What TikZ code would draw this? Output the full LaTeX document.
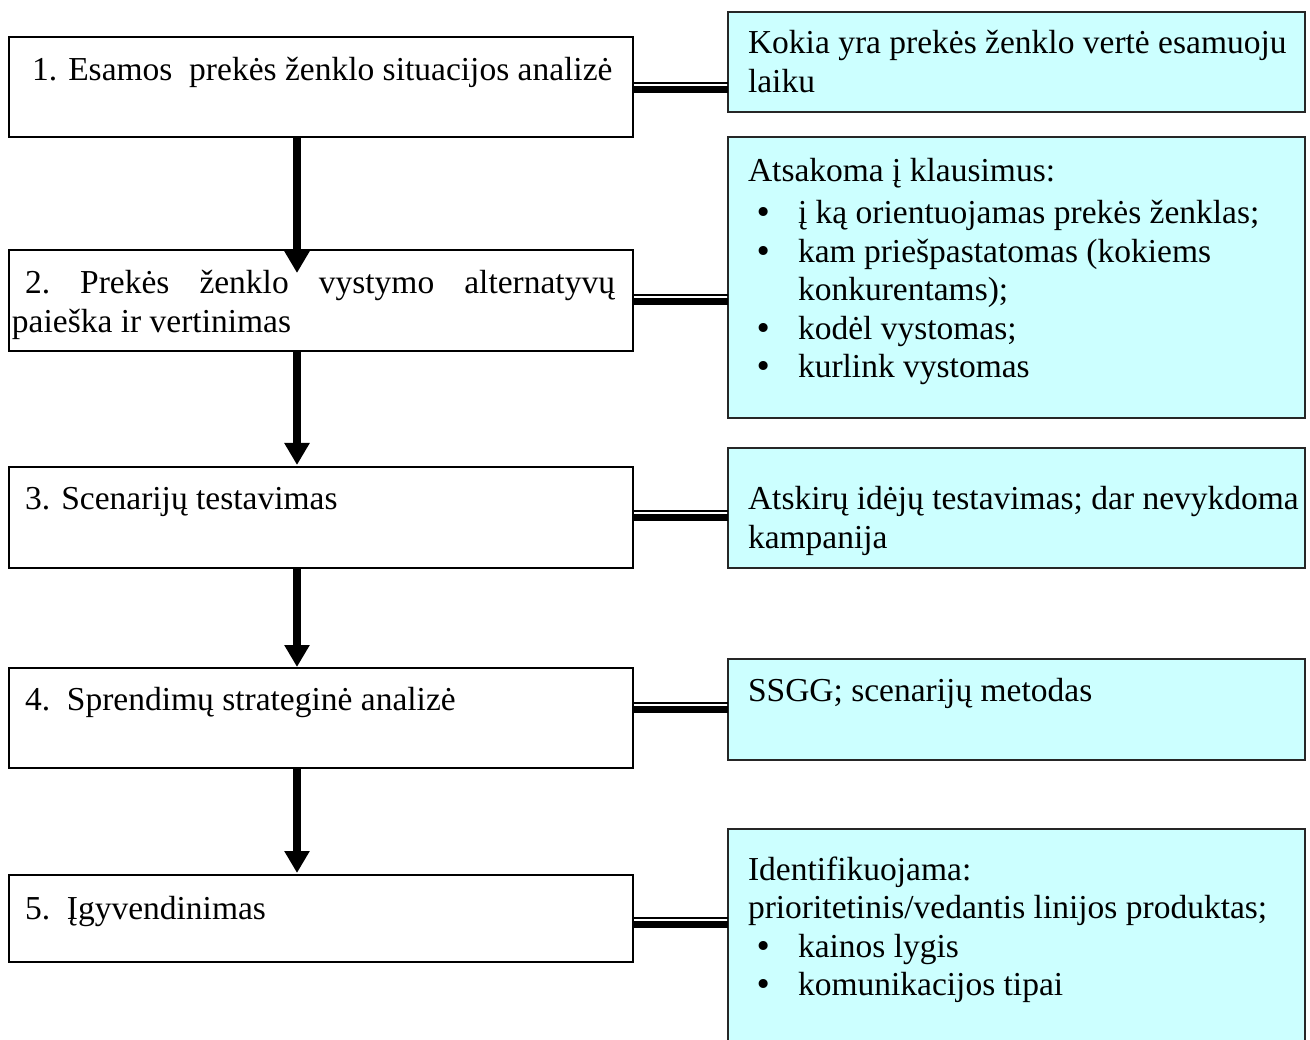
\documentclass[tikz,border=0pt]{standalone}
\usepackage{fontspec}
\setmainfont{Liberation Serif}
\newfontfamily\dotfont{DejaVu Sans}
\usetikzlibrary{arrows.meta,calc}
\definecolor{notefill}{HTML}{CCFFFF}
\newcommand{\itemdot}{{\dotfont\fontsize{31}{31}\selectfont •}}
\begin{document}
\begin{tikzpicture}[x=1pt,y=-1pt,
  every node/.style={inner sep=0pt,outer sep=0pt},
  stagebox/.style={draw=black,line width=1.5pt,fill=white,minimum width=624pt},
  notebox/.style={draw=black!85,line width=1.5pt,fill=notefill,minimum width=577pt},
  txt/.style={anchor=base west,font=\fontsize{33.5}{38.5}\selectfont},
  flow/.style={line width=7.5pt,-{Triangle[width=24pt,length=22pt]}},
  linkthin/.style={line width=1.5pt},
  linkthick/.style={line width=7pt}]
\useasboundingbox (0,0) rectangle (1310,1040);

% stage boxes on the left
\node[stagebox,minimum height=100pt] (b1) at (321,87) {};
\node[stagebox,minimum height=101pt] (b2) at (321,300.5) {};
\node[stagebox,minimum height=101pt] (b3) at (321,517.5) {};
\node[stagebox,minimum height=100pt] (b4) at (321,718) {};
\node[stagebox,minimum height=87pt]  (b5) at (321,918.5) {};

% note boxes on the right
\node[notebox,minimum height=100pt] (r1) at (1016.5,62) {};
\node[notebox,minimum height=281pt] (r2) at (1016.5,277.5) {};
\node[notebox,minimum height=120pt] (r3) at (1016.5,508) {};
\node[notebox,minimum height=101pt] (r4) at (1016.5,709.5) {};
\node[notebox,minimum height=216pt] (r5) at (1016.5,937) {};

% double links between stages and notes
\foreach \i/\yc in {1/89.5,2/301.5,3/517.5,4/709.5,5/924.5}{
  \coordinate (k\i) at (680,\yc);
  \coordinate (h\i) at (680,\yc-6.5);
  \draw[linkthick] (k\i -| b\i.east) -- (k\i -| r\i.west);
  \draw[linkthin] (h\i -| b\i.east) -- (h\i -| r\i.west);
}

% stage texts
\node[txt] (t1) at (32,81) {1. Esamos\ \ prekės ženklo situacijos analizė};
\node[txt] (t2a) at (25,294) {\makebox[590pt][s]{2.\hspace{\fill}Prekės\hspace{\fill}ženklo\hspace{\fill}vystymo\hspace{\fill}alternatyvų}};
\node[txt] (t2b) at (12,332.5) {paieška ir vertinimas};
\node[txt] (t3) at (25,510) {3. Scenarijų testavimas};
\node[txt] (t4) at (25,710) {4.\ \ Sprendimų strateginė analizė};
\node[txt] (t5) at (25,919) {5.\ \ Įgyvendinimas};

% note texts
\node[txt] (n1a) at (748,54) {Kokia yra prekės ženklo vertė esamuoju};
\node[txt] (n1b) at (748,92.5) {laiku};

\node[txt] (n2a) at (748,182) {Atsakoma į klausimus:};
\node[txt] (d2b) at (754,224) {\itemdot};
\node[txt] (n2b) at (798,224) {į ką orientuojamas prekės ženklas;};
\node[txt] (d2c) at (754,262.5) {\itemdot};
\node[txt] (n2c) at (798,262.5) {kam priešpastatomas (kokiems};
\node[txt] (n2d) at (798,301) {konkurentams);};
\node[txt] (d2e) at (754,339.5) {\itemdot};
\node[txt] (n2e) at (798,339.5) {kodėl vystomas;};
\node[txt] (d2f) at (754,378) {\itemdot};
\node[txt] (n2f) at (798,378) {kurlink vystomas};

\node[txt] (n3a) at (748,510) {Atskirų idėjų testavimas; dar nevykdoma};
\node[txt] (n3b) at (748,548.5) {kampanija};

\node[txt] (n4) at (748,701) {SSGG; scenarijų metodas};

\node[txt] (n5a) at (748,880) {Identifikuojama:};
\node[txt] (n5b) at (748,918.5) {prioritetinis/vedantis linijos produktas;};
\node[txt] (d5c) at (754,957) {\itemdot};
\node[txt] (n5c) at (798,957) {kainos lygis};
\node[txt] (d5d) at (754,995.5) {\itemdot};
\node[txt] (n5d) at (798,995.5) {komunikacijos tipai};

% flow arrows between stages
\coordinate (ax) at (297,0);
\draw[flow] (b1.south -| ax) -- ($(b2.north -| ax)+(0,23)$);
\draw[flow] (b2.south -| ax) -- ($(b3.north -| ax)+(0,-2)$);
\draw[flow] (b3.south -| ax) -- ($(b4.north -| ax)+(0,-1)$);
\draw[flow] (b4.south -| ax) -- ($(b5.north -| ax)+(0,-2)$);
\end{tikzpicture}
\end{document}
